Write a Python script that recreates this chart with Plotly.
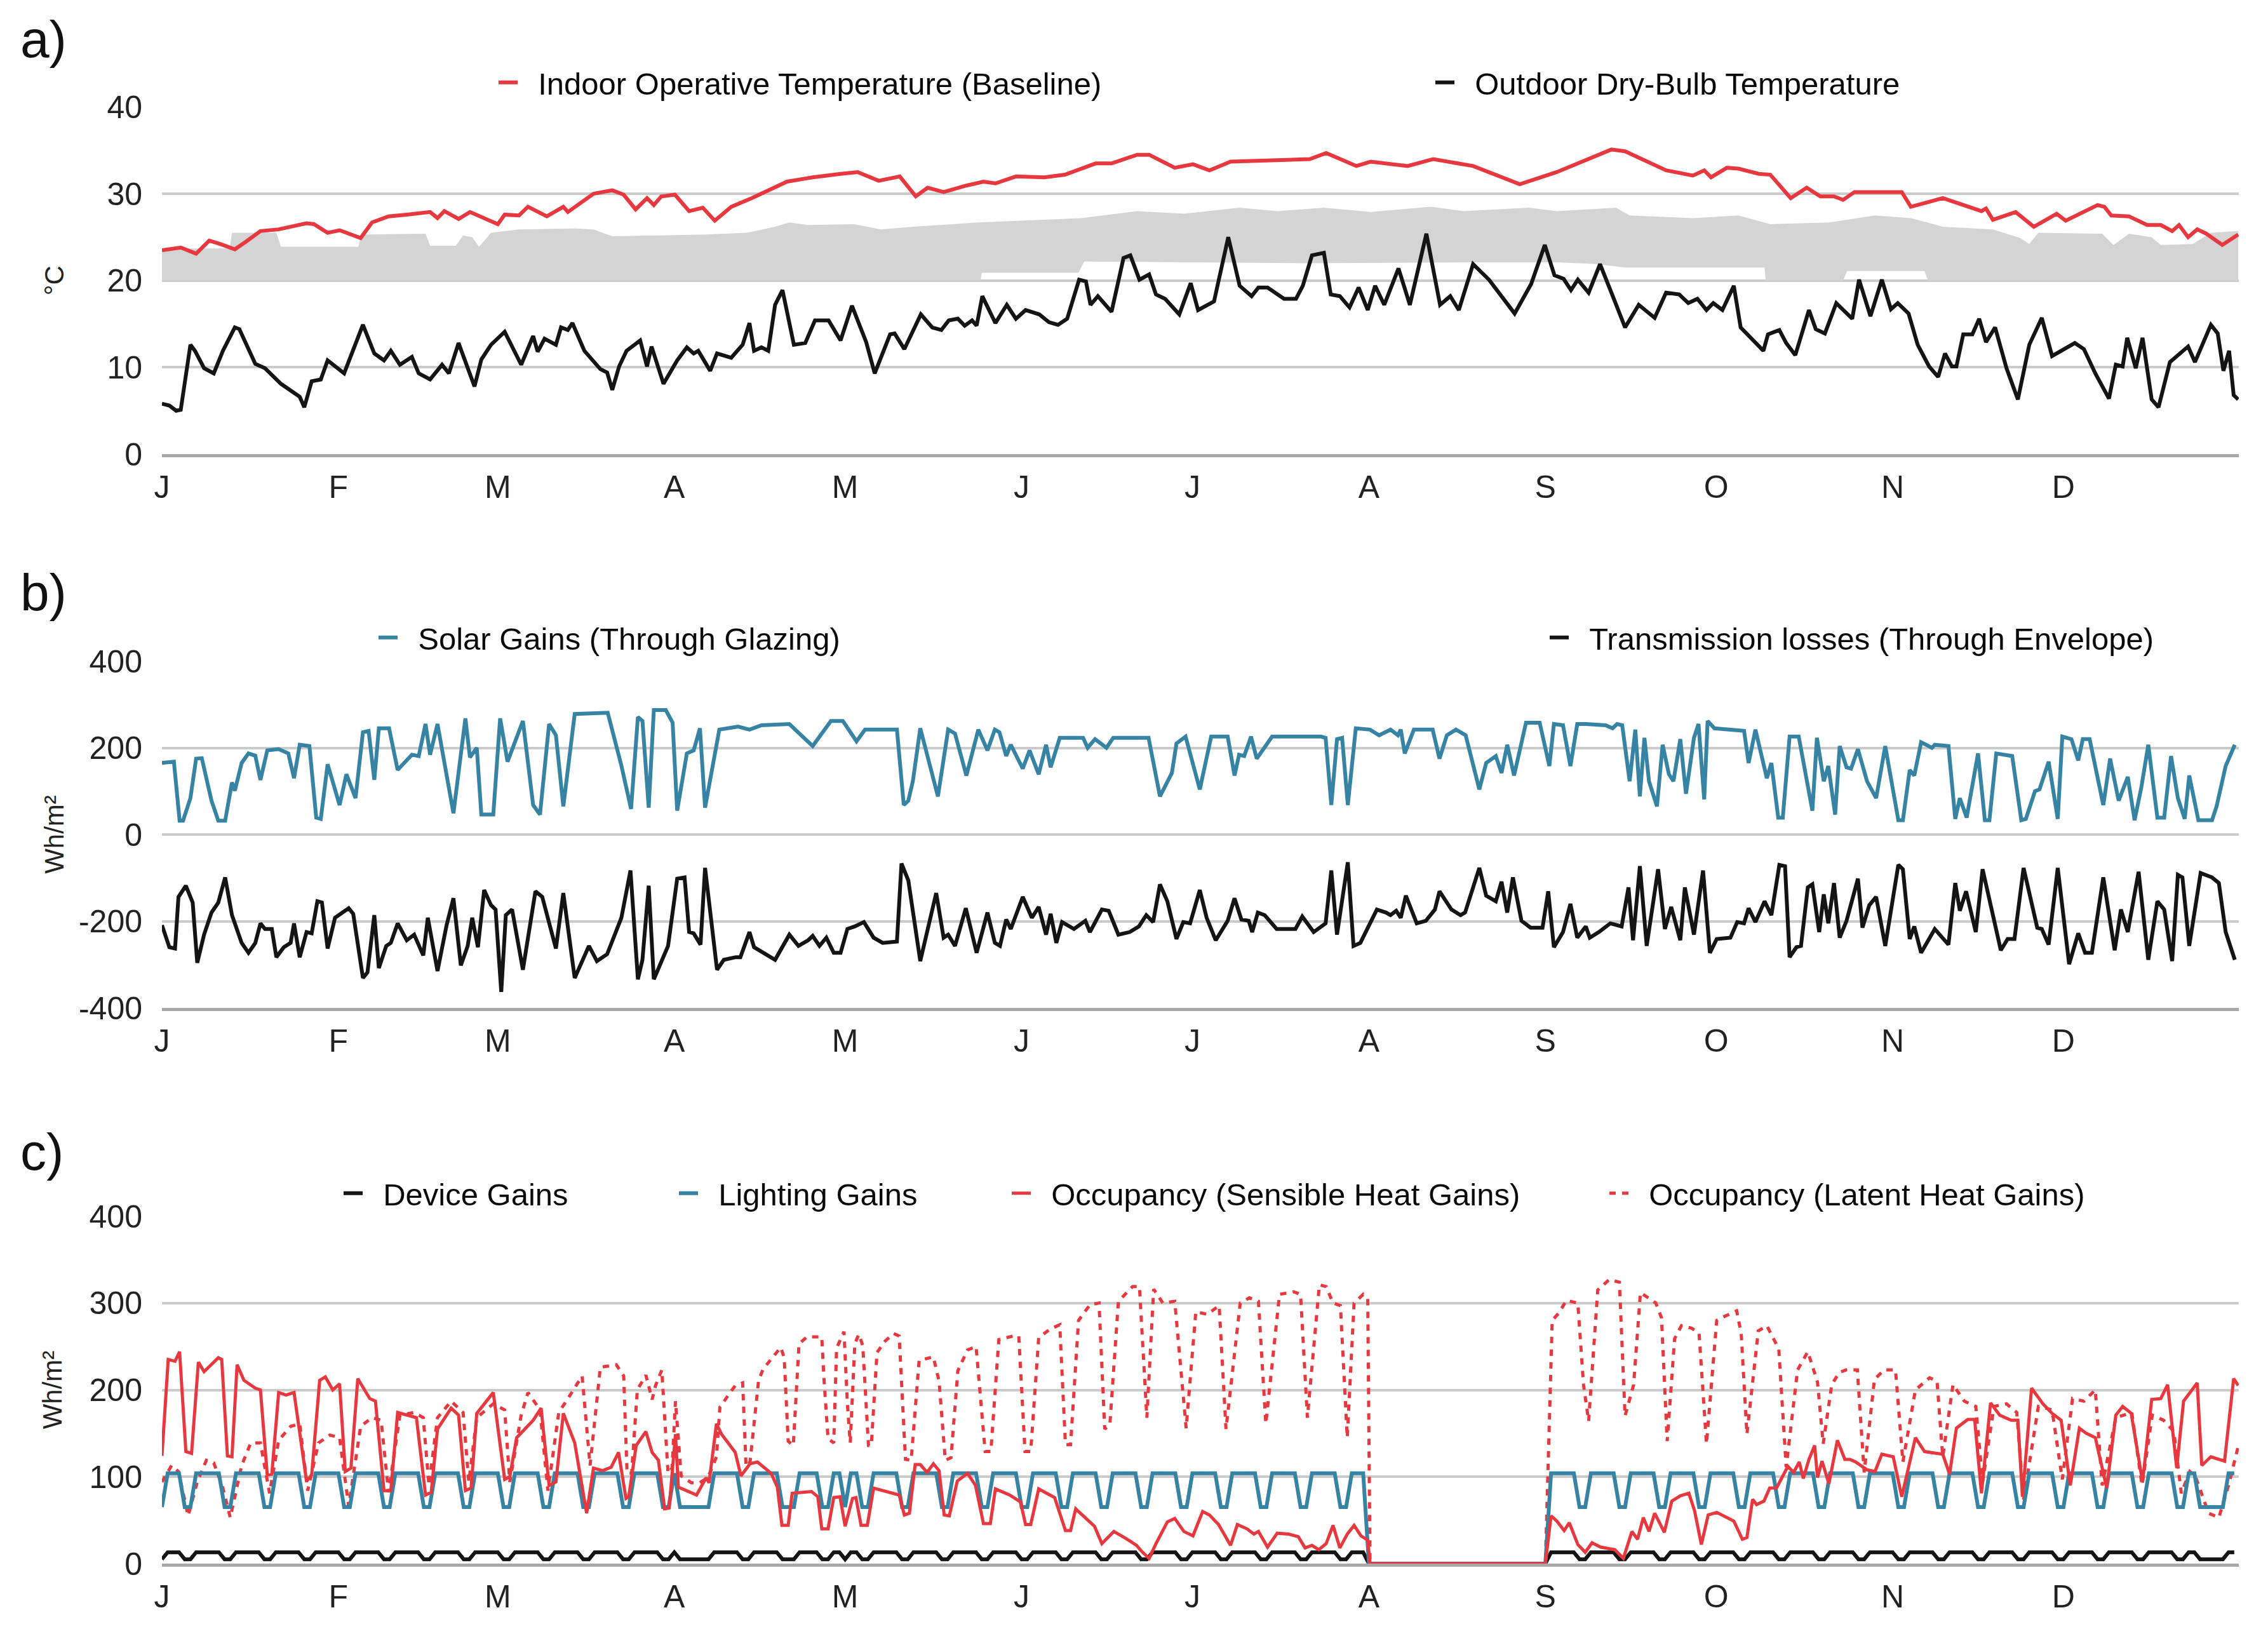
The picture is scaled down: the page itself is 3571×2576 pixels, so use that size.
import plotly.graph_objects as go

# ---------------- DATA (day of year: 0 = 1 January) ----------------
month_ticks = [0, 31, 59, 90, 120, 151, 181, 212, 243, 273, 304, 334]
month_labels = ["J", "F", "M", "A", "M", "J", "J", "A", "S", "O", "N", "D"]

# a) temperatures (°C) as (day, value)
indoor_pts = [(0,23.5),(1.3,23.6),(3.3,23.8),(6.0,23.1),(8.3,24.6),(10.3,24.2),(12.8,23.6),(14.8,24.5),(17.3,25.7),(20.5,25.9),
 (25.4,26.6),(26.7,26.5),(29.1,25.5),(31.2,25.8),(34.9,24.9),(36.9,26.7),(39.8,27.4),(43.0,27.6),(47.1,27.9),(48.4,27.2),
 (49.6,28.0),(52.1,27.1),(54.1,27.9),(59.0,26.5),(60.2,27.6),(62.7,27.5),(64.3,28.5),(67.6,27.4),(70.5,28.5),(71.3,27.9),
 (75.8,30.0),(79.1,30.4),(81.1,29.9),(83.2,28.2),(85.2,29.5),(86.4,28.7),(87.7,29.7),(90.1,29.9),(92.6,28.0),(95.0,28.4),
 (97.1,26.9),(100.0,28.5),(103.6,29.5),(109.8,31.4),(114.3,31.9),(119.2,32.3),(122.2,32.5),(125.9,31.5),(129.6,32.0),(132.4,29.7),
 (134.5,30.7),(137.3,30.2),(141.0,30.9),(144.3,31.4),(146.4,31.2),(150.0,32.0),(155.0,31.9),(158.6,32.2),(164.0,33.5),(166.8,33.5),
 (171.3,34.5),(173.4,34.5),(177.9,33.0),(181.1,33.4),(184.0,32.7),(187.7,33.7),(193.4,33.8),(201.6,34.0),(204.5,34.7),(209.8,33.2),
 (212.3,33.7),(218.8,33.2),(223.3,34.0),(230.3,33.2),(238.5,31.1),(245.0,32.5),(254.6,35.1),(257.0,34.9),(264.2,32.7),(268.9,32.1),
 (270.9,32.7),(272.1,31.9),(274.9,33.0),(276.9,32.9),(280.5,32.3),(282.5,32.2),(286.1,29.5),(288.9,30.7),(291.3,29.7),(293.7,29.7),
 (295.3,29.3),(297.3,30.2),(305.6,30.2),(307.2,28.5),(312.8,29.5),(317.2,28.5),(319.6,28.0),(320.4,28.3),(321.6,27.0),(325.6,27.9),
 (328.8,26.2),(332.8,27.7),(334.4,26.9),(340.0,28.7),(341.2,28.5),(342.4,27.5),(345.5,27.4),(348.7,26.4),(351.1,26.4),(353.1,25.7),
 (354.3,26.4),(355.9,25.0),(357.5,25.9),(359.1,25.4),(361.9,24.1),(364.7,25.3)]

band_top_pts = [(0,23.7),(11.9,23.7),(12.3,25.5),(20.1,25.5),(20.9,23.9),(34.5,23.9),(35.0,25.3),(46.3,25.4),(47.1,24.0),(51.6,24.0),
 (52.9,25.2),(54.5,25.0),(55.7,23.9),(57.8,25.5),(62.7,25.9),(72.5,26.0),(75.8,25.9),(79.1,25.1),(87.3,25.2),(95.4,25.3),
 (102.8,25.5),(107.7,26.2),(110.2,26.7),(113.5,26.4),(121.6,26.5),(126.3,25.9),(132.0,26.2),(143.5,26.7),(161.5,27.2),(171.3,28.0),
 (179.5,27.7),(189.3,28.4),(195.9,28.0),(204.1,28.4),(212.3,27.9),(222.9,28.5),(228.6,28.0),(240.1,28.4),(245.0,28.0),(255.4,28.4),
 (257.8,27.5),(268.9,27.2),(276.9,27.5),(282.5,26.5),(292.9,26.7),(300.9,27.5),(307.2,27.2),(312.8,26.2),(321.6,25.9),(326.4,24.9),
 (328.0,24.2),(329.6,25.5),(340.8,25.4),(342.8,24.1),(345.5,25.4),(349.5,25.0),(351.1,24.1),(356.7,24.2),(359.9,25.5),(364.7,25.7)]

band_low_pts = [(0,20),(143.8,20),(144.0,20.9),(161.0,20.9),(162.0,22.2),(200,22.0),(230,22.1),(245,22.1),(252,21.9),(257,21.5),
 (281.5,21.5),(281.7,20),(295.3,20),(296.0,21.1),(309.6,21.1),(310.2,20),(364.7,20)]

outdoor_pts = [(0,5.8),(1.3,5.6),(2.5,5.0),(3.3,5.1),(5.0,12.6),(5.8,11.9),(7.4,9.9),(9.1,9.3),(10.7,11.9),(12.8,14.6),
 (13.6,14.4),(16.4,10.4),(18.1,9.9),(20.9,8.1),(24.2,6.6),(25.0,5.4),(26.3,8.4),(27.9,8.6),(29.1,10.8),(32.0,9.3),
 (35.3,14.9),(37.3,11.6),(39.0,10.8),(40.2,11.9),(41.8,10.3),(43.9,11.2),(45.1,9.3),(47.1,8.6),(49.2,10.3),(50.4,9.3),
 (52.1,12.8),(54.9,7.8),(56.1,10.9),(57.8,12.6),(60.2,14.1),(63.1,10.3),(65.2,13.6),(66.0,11.8),(67.2,13.3),(69.2,12.6),
 (70.1,14.6),(71.3,14.3),(72.1,15.1),(74.2,11.9),(77.0,9.8),(78.2,9.4),(79.1,7.4),(80.3,10.1),(81.6,11.9),(84.0,13.1),
 (85.2,10.1),(86.0,12.4),(88.1,8.1),(90.5,10.8),(92.2,12.3),(93.4,11.6),(94.2,11.9),(96.3,9.6),(97.5,11.6),(100.0,11.1),
 (102.0,12.6),(103.2,15.1),(104.0,11.9),(105.3,12.3),(106.5,11.9),(107.7,17.2),(109.0,18.9),(111.0,12.6),(113.0,12.8),(114.7,15.4),
 (117.1,15.4),(119.2,13.1),(121.2,17.1),(123.7,12.9),(125.2,9.3),(127.9,13.8),(128.7,13.9),(130.4,12.1),(133.3,16.1),(135.3,14.6),
 (136.9,14.3),(138.2,15.4),(139.8,15.6),(141.0,14.8),(142.3,15.4),(143.1,14.8),(144.1,18.2),(146.4,15.1),(148.4,17.2),(150.0,15.6),
 (151.7,16.6),(154.1,16.1),(155.8,15.2),(157.4,14.9),(159.0,15.6),(161.1,20.1),(162.3,19.9),(163.1,17.2),(164.4,18.2),(166.8,16.4),
 (168.9,22.6),(170.1,22.9),(171.7,20.1),(173.4,20.7),(174.6,18.4),(176.2,17.9),(178.7,16.1),(180.7,19.7),(182.0,16.6),(184.8,17.6),
 (187.3,25.0),(189.3,19.4),(191.4,18.2),(192.6,19.2),(194.2,19.2),(197.1,17.9),(199.2,17.9),(200.4,19.4),(202.0,22.9),(204.1,23.2),
 (205.3,18.4),(206.9,18.2),(208.6,16.9),(210.2,19.2),(211.8,16.6),(213.1,19.4),(214.7,17.2),(217.2,21.4),(219.2,17.2),(222.1,25.4),
 (224.5,17.2),(226.3,18.2),(227.8,16.6),(230.3,21.9),(233.1,20.1),(235.6,17.9),(237.6,16.2),(240.5,19.6),(242.9,24.1),(244.6,20.6),
 (246.2,20.2),(247.5,18.9),(248.7,20.1),(250.6,18.6),(252.6,21.9),(254.6,18.6),(257.0,14.6),(259.4,17.2),(262.2,15.7),(264.2,18.6),
 (266.5,18.4),(268.1,17.4),(269.7,17.9),(271.3,16.6),(272.5,17.4),(274.1,16.6),(276.1,19.4),(277.3,14.6),(281.3,11.9),(282.1,13.8),
 (284.1,14.3),(285.3,12.8),(286.9,11.4),(289.3,16.6),(290.5,14.4),(292.1,13.9),(294.1,17.4),(296.9,15.6),(298.1,20.1),(300.1,15.9),
 (302.1,20.1),(303.7,16.7),(304.9,17.4),(306.8,16.2),(308.4,12.6),(310.4,10.1),(312.0,8.9),(313.2,11.6),(314.4,10.1),(315.2,10.1),
 (316.4,13.8),(318.0,13.8),(319.2,15.6),(320.4,12.9),(322.0,14.6),(324.0,9.9),(326.0,6.3),(328.0,12.6),(330.2,15.7),(332.0,11.3),
 (336.0,12.8),(337.6,12.1),(339.6,9.3),(342.0,6.4),(343.2,10.3),(344.4,10.1),(345.2,13.4),(346.7,9.9),(347.9,13.4),(349.5,6.3),
 (350.7,5.4),(352.7,10.6),(353.9,11.3),(355.9,12.4),(357.1,10.6),(359.9,14.9),(361.1,13.9),(362.1,9.6),(363.1,11.9),(363.9,6.8),
 (364.7,6.3)]

# b) energy balance (Wh/m2)
solar_pts = [(0,165),(2.1,168),(3.1,32),(3.7,32),(5.0,84),(6.0,175),(7.0,176),(8.7,78),(9.9,32),(11.1,32),
 (12.3,120),(12.8,101),(14.0,165),(15.2,187),(16.4,182),(17.3,126),(18.5,194),(20.5,197),(22.2,187),(23.2,130),
 (24.2,207),(25.9,204),(27.1,39),(27.9,36),(29.1,162),(31.2,68),(32.4,139),(34.0,84),(35.3,236),(36.3,239),
 (37.3,126),(38.1,245),(39.9,245),(41.4,149),(43.9,184),(45.1,181),(46.3,255),(47.1,184),(48.4,255),(51.2,49),
 (53.3,268),(54.1,178),(55.3,200),(56.1,46),(58.2,46),(59.4,268),(60.7,168),(63.4,262),(65.2,68),(66.4,46),
 (68.0,255),(69.2,229),(70.5,65),(72.5,278),(78.3,281),(80.7,159),(82.4,59),(83.6,271),(84.4,262),(85.5,62),
 (86.4,287),(88.5,287),(89.7,258),(90.5,55),(92.2,187),(93.4,194),(94.5,245),(95.4,62),(97.9,242),(101.2,249),
 (103.2,242),(105.3,252),(110.2,255),(114.3,204),(117.5,262),(119.6,262),(122.0,215),(123.5,242),(129.1,242),(130.3,68),
 (131.1,78),(131.9,123),(133.2,245),(136.3,88),(138.1,242),(139.3,233),(141.3,136),(143.4,242),(145.0,194),(146.3,242),
 (147.1,236),(148.3,181),(149.1,207),(151.2,152),(152.4,194),(154.0,139),(155.3,207),(156.1,155),(157.7,223),(161.8,223),
 (162.6,200),(163.9,220),(165.9,200),(167.1,223),(173.3,223),(175.3,88),(177.4,142),(178.2,210),(179.8,226),(182.3,104),
 (184.3,226),(187.2,226),(188.4,136),(189.2,184),(190.1,181),(191.3,226),(192.3,175),(195.0,226),(203.6,226),(204.4,223),
 (205.4,68),(206.4,220),(207.3,223),(208.3,68),(209.7,245),(212.2,242),(213.8,229),(215.8,242),(217.1,229),(217.6,242),
 (218.3,187),(219.9,242),(223.2,242),(224.4,175),(225.7,229),(227.3,242),(229.0,229),(231.4,104),(232.6,165),(234.3,181),
 (235.3,142),(236.3,207),(237.5,136),(239.6,258),(242.0,258),(243.7,158),(244.5,255),(246.1,252),(247.4,158),(248.6,255),
 (250.1,255),(253.6,252),(254.8,245),(255.6,255),(256.5,252),(257.8,123),(258.8,242),(259.6,88),(260.4,223),(261.2,123),
 (262.6,65),(263.6,207),(264.7,139),(265.5,123),(266.7,220),(267.7,94),(269.1,223),(269.9,255),(270.9,81),(271.5,262),
 (272.7,245),(277.9,239),(278.7,165),(279.9,242),(281.9,130),(282.7,165),(283.9,39),(284.7,39),(285.9,226),(287.5,226),
 (289.9,55),(290.7,223),(291.9,123),(292.7,158),(293.9,46),(294.7,204),(295.9,155),(296.7,152),(297.9,197),(299.5,123),
 (301.1,84),(302.7,204),(305.0,33),(305.8,33),(307.0,149),(307.8,136),(309.0,213),(309.8,207),(310.9,200),(311.4,207),
 (313.8,204),(315.0,36),(315.8,84),(317.0,39),(319.0,187),(320.2,33),(321.0,33),(322.2,187),(325.0,181),(326.6,33),
 (327.4,36),(329.0,100),(329.8,104),(331.4,168),(332.0,123),(333.0,36),(333.8,226),(335.4,220),(336.6,171),(337.4,220),
 (338.6,220),(341.0,68),(342.2,175),(343.7,78),(345.3,133),(346.5,33),(347.7,110),(348.9,207),(350.5,39),(351.7,39),
 (352.9,181),(354.1,84),(355.3,36),(356.1,136),(357.7,33),(360.1,33),(360.9,65),(362.5,158),(364.1,207)]

transmission_pts = [(0,-209),(1.3,-260),(2.3,-263),(2.9,-144),(4.2,-118),(5.4,-157),(6.2,-296),(7.4,-231),(8.7,-180),(9.9,-157),
 (11.1,-99),(12.3,-186),(14.0,-250),(15.2,-273),(16.4,-250),(17.3,-205),(18.1,-218),(19.3,-218),(20.1,-283),(21.4,-260),
 (22.6,-250),(23.2,-205),(24.2,-283),(25.4,-225),(26.3,-228),(27.3,-154),(28.1,-157),(29.1,-263),(30.4,-192),(32.8,-170),
 (33.6,-183),(35.3,-331),(36.1,-318),(37.3,-186),(38.1,-308),(39.4,-257),(40.2,-250),(41.4,-205),(43.0,-244),(44.3,-231),
 (45.9,-279),(46.7,-192),(48.4,-315),(50.0,-209),(51.2,-147),(52.5,-302),(53.7,-257),(54.5,-192),(55.5,-260),(56.6,-128),
 (57.8,-163),(58.6,-173),(59.6,-363),(60.4,-186),(61.5,-173),(63.4,-312),(65.6,-131),(66.8,-144),(69.2,-263),(70.5,-135),
 (72.5,-331),(75.0,-257),(76.4,-292),(78.2,-276),(80.7,-192),(82.3,-83),(83.6,-334),(84.4,-289),(85.5,-118),(86.4,-334),
 (88.9,-257),(90.5,-102),(91.8,-99),(92.6,-225),(93.4,-228),(94.6,-254),(95.4,-77),(97.5,-312),(98.7,-289),(100.8,-283),
 (101.6,-283),(103.2,-225),(104.0,-260),(105.7,-273),(107.7,-289),(110.2,-231),(111.8,-257),(113.5,-244),(114.3,-234),(115.5,-257),
 (116.7,-238),(118.0,-273),(119.2,-273),(120.4,-218),(121.7,-212),(123.3,-202),(125.0,-238),(126.6,-250),(129.1,-247),(129.9,-67),
 (131.1,-106),(133.2,-292),(136.0,-135),(137.3,-238),(138.1,-231),(139.3,-257),(141.2,-170),(143.1,-273),(145.0,-180),(146.3,-250),
 (147.2,-257),(148.3,-196),(149.1,-218),(151.2,-144),(152.8,-192),(154.0,-167),(155.3,-231),(156.1,-183),(157.1,-250),(158.1,-202),
 (160.2,-218),(162.2,-199),(163.0,-225),(165.1,-173),(166.3,-176),(168.0,-231),(170.0,-225),(171.6,-212),(172.9,-186),(174.1,-202),
 (175.3,-115),(176.6,-154),(178.2,-241),(179.4,-202),(180.6,-205),(182.3,-128),(183.5,-192),(185.1,-244),(187.2,-199),(188.4,-147),
 (189.6,-196),(190.9,-199),(191.5,-225),(192.5,-180),(193.7,-186),(195.8,-218),(199.1,-218),(200.3,-189),(202.3,-225),(204.4,-205),
 (205.4,-83),(206.4,-231),(208.3,-64),(209.3,-257),(210.5,-250),(213.4,-173),(215.0,-180),(215.8,-186),(216.8,-176),(217.6,-192),
 (218.5,-141),(220.4,-205),(222.0,-199),(223.6,-173),(224.4,-131),(226.5,-173),(228.1,-186),(228.9,-180),(231.4,-77),(232.6,-141),
 (234.3,-154),(235.3,-109),(236.3,-180),(237.3,-99),(238.8,-199),(240.4,-215),(242.5,-215),(243.5,-131),(244.5,-260),(246.1,-225),
 (247.4,-160),(248.6,-238),(250.1,-212),(250.8,-238),(252.4,-225),(254.4,-205),(256.4,-212),(257.6,-122),(258.4,-244),(259.6,-73),
 (260.8,-257),(262.8,-80),(264.0,-218),(265.1,-167),(266.7,-244),(267.5,-122),(269.1,-231),(270.7,-83),(271.9,-273),(273.1,-241),
 (275.5,-238),(276.7,-202),(277.9,-205),(278.7,-170),(279.9,-202),(281.5,-154),(282.7,-186),(284.1,-70),(285.1,-73),(285.9,-283),
 (287.1,-260),(287.9,-257),(289.1,-122),(289.9,-115),(291.1,-225),(291.9,-138),(292.7,-205),(293.7,-112),(294.7,-238),(295.9,-199),
 (297.9,-102),(298.7,-215),(299.9,-163),(301.1,-144),(302.7,-257),(305.0,-70),(305.8,-80),(307.0,-241),(307.8,-212),(309.0,-273),
 (311.4,-218),(313.8,-254),(315.0,-112),(315.8,-176),(316.9,-131),(318.6,-225),(319.8,-80),(323.0,-267),(324.2,-241),(325.4,-241),
 (327.0,-77),(329.4,-215),(330.2,-218),(331.4,-254),(333.0,-77),(335.0,-299),(336.6,-228),(337.8,-273),(339.0,-273),(341.0,-99),
 (343.0,-267),(344.1,-173),(345.3,-225),(347.2,-86),(348.9,-289),(350.5,-154),(351.7,-173),(353.1,-292),(354.1,-93),(354.9,-99),
 (356.1,-257),(358.1,-89),(360.1,-99),(361.3,-112),(362.5,-225),(364.1,-289)]

# c) internal gains (Wh/m2), one value per day
lighting_gains = [
 65,104,104,104,65,65,104,
 104,104,104,104,65,65,104, 104,104,104,104,65,65,104, 104,104,104,104,65,65,104, 104,104,104,104,65,65,104,
 104,104,104,104,65,65,104, 104,104,104,104,65,65,104, 104,104,104,104,65,65,104, 104,104,104,104,65,65,104,
 104,104,104,104,65,65,104, 104,104,104,104,65,65,104, 104,104,104,104,65,65,104, 104,104,104,104,65,65,104,
 65,65,65,65,65,65,104,
 104,104,104,104,65,65,104,
 104,104,104,104,65,65,65,
 104,104,104,104,65,65,104,
 104,65,104,104,65,65,104,
 104,104,104,104,65,65,104, 104,104,104,104,65,65,104, 104,104,104,104,65,65,104, 104,104,104,104,65,65,104,
 104,104,104,104,65,65,104, 104,104,104,104,65,65,104, 104,104,104,104,65,65,104, 104,104,104,104,65,65,104,
 104,104,104,104,65,65,104, 104,104,104,104,65,65,104, 104,104,104,104,65,65,104, 104,104,104,104,65,65,104,
 104,104,0,0,0,0,0,
 0,0,0,0,0,0,0, 0,0,0,0,0,0,0, 0,0,0,0,0,0,0,
 0,0,0,0,0,0,104,
 104,104,104,104,65,65,104, 104,104,104,104,65,65,104, 104,104,104,104,65,65,104, 104,104,104,104,65,65,104,
 104,104,104,104,65,65,104, 104,104,104,104,65,65,104, 104,104,104,104,65,65,104, 104,104,104,104,65,65,104,
 104,104,104,104,65,65,104, 104,104,104,104,65,65,104, 104,104,104,104,65,65,104, 104,104,104,104,65,65,104,
 104,104,104,104,65,65,104, 104,104,104,104,65,65,104, 104,104,104,104,65,65,104, 104,104,104,104,65,65,104,
 104,65,65,65,65,65,104,
 104]

device_gains = [
 5,13,13,13,5,5,13,
 13,13,13,13,5,5,13, 13,13,13,13,5,5,13, 13,13,13,13,5,5,13, 13,13,13,13,5,5,13,
 13,13,13,13,5,5,13, 13,13,13,13,5,5,13, 13,13,13,13,5,5,13, 13,13,13,13,5,5,13,
 13,13,13,13,5,5,13, 13,13,13,13,5,5,13, 13,13,13,13,5,5,13, 13,13,13,13,5,5,13,
 5,5,5,5,5,5,13,
 13,13,13,13,5,5,13,
 13,13,13,13,5,5,5,
 13,13,13,13,5,5,13,
 13,5,13,13,5,5,13,
 13,13,13,13,5,5,13, 13,13,13,13,5,5,13, 13,13,13,13,5,5,13, 13,13,13,13,5,5,13,
 13,13,13,13,5,5,13, 13,13,13,13,5,5,13, 13,13,13,13,5,5,13, 13,13,13,13,5,5,13,
 13,13,13,13,5,5,13, 13,13,13,13,5,5,13, 13,13,13,13,5,5,13, 13,13,13,13,5,5,13,
 13,13,0,0,0,0,0,
 0,0,0,0,0,0,0, 0,0,0,0,0,0,0, 0,0,0,0,0,0,0,
 0,0,0,0,0,0,13,
 13,13,13,13,5,5,13, 13,13,13,13,5,5,13, 13,13,13,13,5,5,13, 13,13,13,13,5,5,13,
 13,13,13,13,5,5,13, 13,13,13,13,5,5,13, 13,13,13,13,5,5,13, 13,13,13,13,5,5,13,
 13,13,13,13,5,5,13, 13,13,13,13,5,5,13, 13,13,13,13,5,5,13, 13,13,13,13,5,5,13,
 13,13,13,13,5,5,13, 13,13,13,13,5,5,13, 13,13,13,13,5,5,13, 13,13,13,13,5,5,13,
 13,5,5,5,5,5,13,
 13]

sensible_pts = [(0,124),(1.1,235),(2.3,233),(3.1,244),(4.2,129),(5.2,127),(6.4,232),(7.4,221),(9.9,237),(10.5,235),
 (11.5,124),(12.3,123),(13.2,229),(14.4,211),(16.4,202),(17.3,200),(18.5,102),(19.3,103),(20.5,197),(21.8,194),
 (23.2,197),(25.4,95),(26.3,102),(27.7,211),(28.7,215),(30.0,200),(31.2,207),(32.2,106),(33.2,110),(34.4,213),
 (36.5,190),(37.5,187),(39.0,84),(40.2,84),(41.4,174),(43.0,171),(44.7,168),(46.3,79),(47.3,82),(48.4,155),
 (50.8,179),(52.1,171),(53.3,84),(54.3,87),(55.3,173),(58.2,197),(60.2,97),(61.1,100),(62.3,145),(65.2,165),
 (66.6,179),(68.0,90),(69.2,94),(70.5,173),(72.5,139),(74.6,58),(75.8,110),(77.4,107),(78.9,111),(80.2,128),
 (81.5,75),(82.0,77),(83.3,136),(85.0,152),(86.1,128),(87.2,119),(88.3,63),(89.1,64),(90.2,149),(90.7,88),
 (93.9,79),(95.6,99),(96.1,93),(97.4,161),(98.3,149),(100.7,128),(101.7,101),(103.3,115),(104.6,117),(107.0,104),
 (108.1,88),(108.9,44),(110.0,44),(110.7,81),(114.1,83),(115.2,77),(115.9,40),(117.0,40),(118.0,76),(119.1,77),
 (120.0,43),(121.3,75),(121.9,76),(122.8,44),(123.9,44),(125.0,87),(127.4,83),(129.5,79),(130.4,56),(131.3,58),
 (132.3,114),(133.2,114),(134.4,105),(135.5,115),(136.5,107),(137.4,56),(138.3,55),(139.7,95),(141.5,104),(142.9,90),
 (144.3,46),(145.5,46),(146.4,86),(148.9,79),(150.8,71),(151.7,45),(152.6,45),(154.0,86),(155.4,81),(156.8,76),
 (158.7,38),(159.6,38),(160.5,63),(161.9,55),(163.8,43),(165.1,23),(167.2,37),(169.3,29),(171.2,21),(172.1,14),
 (173.4,6),(174.6,23),(176.6,48),(177.9,52),(179.5,37),(181.1,32),(182.8,60),(184.0,56),(185.6,45),(187.7,21),
 (188.9,45),(190.6,40),(191.8,34),(192.6,37),(194.2,19),(195.9,35),(197.9,34),(199.6,31),(200.8,18),(202.0,21),
 (203.2,16),(204.5,23),(205.7,44),(206.9,18),(208.2,34),(209.4,44),(210.6,32),(211.8,27),(212.2,0),(243.0,0),
 (244.0,55),(245.0,49),(246.3,38),(247.2,47),(248.7,22),(250.0,13),(251.2,24),(252.7,19),(255.2,16),(256.7,6),
 (258.2,37),(259.2,28),(260.2,53),(261.2,37),(262.2,58),(263.9,36),(265.2,72),(266.7,78),(268.2,81),(269.2,61),
 (270.4,22),(271.6,56),(273.1,59),(276.1,49),(277.6,28),(278.4,30),(279.4,74),(280.1,68),(281.4,72),(282.4,87),
 (283.6,87),(285.6,112),(286.6,105),(287.6,117),(288.3,98),(289.3,120),(290.3,136),(290.8,99),(291.6,118),(292.8,92),
 (294.3,142),(295.6,120),(296.5,120),(297.5,117),(298.5,112),(299.5,108),(300.9,106),(302.1,126),(304.1,123),(305.6,77),
 (308.0,145),(309.6,129),(311.6,127),(312.8,126),(314.0,103),(315.2,156),(317.2,166),(318.4,166),(319.6,81),(321.2,185),
 (322.8,171),(324.8,165),(326.0,165),(326.8,77),(328.4,202),(330.4,184),(332.0,173),(333.6,165),(335.2,90),(336.8,156),
 (338.0,150),(339.6,145),(341.6,87),(343.2,171),(344.4,181),(345.9,173),(347.9,94),(349.5,189),(351.1,190),(352.3,206),
 (353.9,110),(355.1,187),(357.5,208),(358.3,113),(359.9,123),(362.3,118),(363.9,213),(364.7,205)]

latent_pts = [(0,94),(1.7,113),(2.9,106),(4.6,55),(6.2,94),(7.8,119),(9.1,116),(10.7,87),(12.0,53),(14.0,113),
 (15.6,139),(17.3,139),(18.9,81),(20.5,142),(22.6,158),(24.2,161),(25.6,84),(27.5,139),(29.5,148),(31.2,145),
 (32.8,66),(34.9,158),(36.9,168),(38.5,165),(39.8,82),(41.8,171),(44.3,174),(45.9,168),(46.9,90),(48.4,168),
 (50.8,187),(52.9,174),(53.9,94),(55.3,168),(58.2,184),(60.2,177),(61.1,94),(63.1,171),(64.3,197),(66.4,177),
 (67.8,84),(69.7,174),(71.7,194),(73.8,216),(75.2,113),(77.0,226),(79.8,229),(81.1,216),(81.7,104),(82.5,104),
 (83.5,200),(85.0,217),(86.1,189),(86.7,205),(87.8,223),(88.9,104),(89.6,110),(90.2,187),(91.2,101),(93.0,93),
 (94.4,93),(95.9,99),(97.4,123),(98.0,180),(99.6,195),(100.7,205),(102.0,208),(102.6,112),(103.3,117),(104.8,211),
 (105.6,224),(107.0,235),(108.7,249),(109.3,237),(110.0,141),(110.9,136),(111.9,253),(113.3,261),(115.9,261),(116.3,211),
 (117.0,144),(118.0,139),(118.5,248),(119.8,267),(120.4,184),(120.9,139),(121.7,253),(122.4,264),(123.1,251),(124.1,136),
 (124.6,136),(125.6,243),(127.0,256),(128.5,265),(129.5,262),(130.6,120),(131.6,119),(133.0,234),(135.5,238),(136.5,210),
 (137.6,119),(138.6,122),(139.8,222),(141.5,246),(143.0,250),(144.6,129),(145.6,129),(147.0,258),(149.5,262),(150.5,262),
 (151.6,129),(152.6,129),(154.0,260),(156.0,270),(157.7,275),(158.7,137),(159.6,137),(161.0,280),(163.0,298),(164.6,300),
 (165.6,155),(166.5,160),(168.0,302),(170.5,319),(171.7,319),(173.0,168),(174.2,316),(175.8,300),(177.9,302),(179.9,156),
 (181.6,290),(183.6,287),(185.7,297),(186.9,155),(189.4,300),(191.0,306),(192.6,302),(193.9,161),(196.3,310),(198.8,313),
 (200.0,310),(201.2,168),(203.3,321),(204.5,319),(205.7,300),(207.0,297),(208.2,145),(209.4,300),(211.0,310),(211.8,305),
 (212.2,0),(243.0,0),(244.2,280),(245.3,288),(246.7,303),(248.7,300),(249.7,206),(250.6,164),(252.2,315),(254.2,327),
 (256.0,324),(257.0,170),(258.5,206),(259.7,312),(261.0,306),(262.4,300),(263.4,283),(264.4,141),(265.7,259),(266.9,274),
 (268.7,271),(270.0,265),(271.3,138),(273.1,280),(274.6,285),(276.6,291),(277.4,265),(278.4,149),(280.4,268),(281.9,274),
 (284.0,247),(285.3,111),(287.3,223),(289.1,244),(290.8,209),(291.8,138),(293.3,206),(294.6,220),(295.8,223),(297.8,223),
 (299.0,105),(300.8,212),(302.5,223),(304.5,223),(305.8,117),(308.0,200),(310.5,214),(311.8,210),(312.8,123),(314.6,206),
 (316.6,187),(318.6,181),(319.8,94),(321.8,181),(324.0,184),(325.8,174),(327.0,74),(329.6,181),(332.0,177),(333.8,97),
 (335.6,190),(337.6,187),(339.6,200),(340.8,90),(343.2,168),(346.0,174),(347.8,90),(349.6,171),(351.6,165),(353.4,152),
 (354.7,81),(356.2,106),(357.2,100),(359.5,58),(361.3,53),(363.0,90),(364.7,135)]

# ---------------- STYLE ----------------
W, H = 3571, 2576
PAGE_OFFSET = 8  # default body margin of the html page, in px
FONT = "Liberation Sans, Arial, Helvetica, sans-serif"
RED = "#e8383f"
TEAL = "#3783a4"
BLACK = "#141414"
GRID = "#cbcbcb"
GAP = "\u00a0\u00a0"  # space between legend swatch and label
days = list(range(len(lighting_gains)))


def xs(pts):
    return [p[0] for p in pts]


def ys(pts):
    return [p[1] for p in pts]


def px_x(v):
    return (v - PAGE_OFFSET) / W


def px_y(v):
    return 1 - (v - PAGE_OFFSET) / H


fig = go.Figure()

# ---- panel a ----
fig.add_trace(go.Scatter(x=xs(band_low_pts), y=ys(band_low_pts), mode="lines", line=dict(width=0, color="#d4d4d4"),
                         showlegend=False, hoverinfo="skip", xaxis="x", yaxis="y"))
fig.add_trace(go.Scatter(x=xs(band_top_pts), y=ys(band_top_pts), mode="lines", line=dict(width=0, color="#d4d4d4"),
                         fill="tonexty", fillcolor="#d4d4d4", showlegend=False, hoverinfo="skip", xaxis="x", yaxis="y"))
fig.add_trace(go.Scatter(x=xs(outdoor_pts), y=ys(outdoor_pts), mode="lines", line=dict(width=6, color=BLACK),
                         name=GAP + "Outdoor Dry-Bulb Temperature", legend="legend2", xaxis="x", yaxis="y"))
fig.add_trace(go.Scatter(x=xs(indoor_pts), y=ys(indoor_pts), mode="lines", line=dict(width=6, color=RED),
                         name=GAP + "Indoor Operative Temperature (Baseline)", legend="legend", xaxis="x", yaxis="y"))

# ---- panel b ----
fig.add_trace(go.Scatter(x=xs(solar_pts), y=ys(solar_pts), mode="lines", line=dict(width=6, color=TEAL),
                         name=GAP + "Solar Gains (Through Glazing)", legend="legend3", xaxis="x2", yaxis="y2"))
fig.add_trace(go.Scatter(x=xs(transmission_pts), y=ys(transmission_pts), mode="lines", line=dict(width=6, color=BLACK),
                         name=GAP + "Transmission losses (Through Envelope)", legend="legend4", xaxis="x2", yaxis="y2"))

# ---- panel c ----
fig.add_trace(go.Scatter(x=days, y=device_gains, mode="lines", line=dict(width=6, color=BLACK),
                         name=GAP + "Device Gains", legend="legend5", xaxis="x3", yaxis="y3"))
fig.add_trace(go.Scatter(x=xs(latent_pts), y=ys(latent_pts), mode="lines",
                         line=dict(width=5, color=RED, dash="10px,10px"),
                         name=GAP + "Occupancy (Latent Heat Gains)", legend="legend8", xaxis="x3", yaxis="y3"))
fig.add_trace(go.Scatter(x=days, y=lighting_gains, mode="lines", line=dict(width=6, color=TEAL),
                         name=GAP + "Lighting Gains", legend="legend6", xaxis="x3", yaxis="y3"))
fig.add_trace(go.Scatter(x=xs(sensible_pts), y=ys(sensible_pts), mode="lines", line=dict(width=5, color=RED),
                         name=GAP + "Occupancy (Sensible Heat Gains)", legend="legend7", xaxis="x3", yaxis="y3"))

x_dom = [px_x(255), px_x(3525)]
dom_a = [px_y(715), px_y(168.5)]
dom_b = [px_y(1587), px_y(1041)]
dom_c = [px_y(2462), px_y(1915)]

tickfont = dict(family=FONT, size=50, color="#222222")


def xaxis_cfg(anchor):
    return dict(domain=x_dom, anchor=anchor, range=[0, 364.8], tickmode="array", tickvals=month_ticks,
                ticktext=month_labels, showgrid=False, zeroline=False, showline=True, linecolor="#a8a8a8",
                linewidth=5, ticks="", tickfont=tickfont, ticklabelstandoff=4, automargin=False, fixedrange=True)


def yaxis_cfg(anchor, dom, rng, vals, texts, title, standoff):
    return dict(domain=dom, anchor=anchor, range=rng, tickmode="array", tickvals=vals, ticktext=texts,
                showgrid=True, gridcolor=GRID, gridwidth=4, zeroline=False, showline=False, ticks="",
                tickfont=tickfont, ticklabelstandoff=30, automargin=False, fixedrange=True,
                title=dict(text=title, font=dict(family=FONT, size=42, color="#222222"), standoff=standoff))


legend_common = dict(orientation="h", yanchor="middle", xanchor="left", bgcolor="rgba(0,0,0,0)",
                     font=dict(family=FONT, size=49, color="#0a0a0a"), itemwidth=30, borderwidth=0)

fig.update_layout(
    width=W, height=H, autosize=False,
    margin=dict(l=0, r=0, t=0, b=0, autoexpand=False),
    paper_bgcolor="white", plot_bgcolor="white",
    font=dict(family=FONT, color="#222222"),
    xaxis=xaxis_cfg("y"), xaxis2=xaxis_cfg("y2"), xaxis3=xaxis_cfg("y3"),
    yaxis=yaxis_cfg("x", dom_a, [0, 40], [0, 10, 20, 30, 40], ["0", "10", "20", "30", "40"], "°C", 54),
    yaxis2=yaxis_cfg("x2", dom_b, [-400, 400], [-400, -200, 0, 200, 400], ["-400", "-200", "0", "200", "400"], "Wh/m²", 10),
    yaxis3=yaxis_cfg("x3", dom_c, [0, 400], [0, 100, 200, 300, 400], ["0", "100", "200", "300", "400"], "Wh/m²", 29),
    legend=dict(legend_common, x=px_x(780), y=px_y(130)),
    legend2=dict(legend_common, x=px_x(2255), y=px_y(130)),
    legend3=dict(legend_common, x=px_x(591), y=px_y(1004)),
    legend4=dict(legend_common, x=px_x(2435), y=px_y(1004)),
    legend5=dict(legend_common, x=px_x(536), y=px_y(1879)),
    legend6=dict(legend_common, x=px_x(1064), y=px_y(1879)),
    legend7=dict(legend_common, x=px_x(1588), y=px_y(1879)),
    legend8=dict(legend_common, x=px_x(2529), y=px_y(1879)),
    annotations=[
        dict(text="a)", x=px_x(30), y=px_y(62), xref="paper", yref="paper", xanchor="left", yanchor="middle",
             showarrow=False, font=dict(family=FONT, size=82, color="#111111")),
        dict(text="b)", x=px_x(30), y=px_y(932), xref="paper", yref="paper", xanchor="left", yanchor="middle",
             showarrow=False, font=dict(family=FONT, size=82, color="#111111")),
        dict(text="c)", x=px_x(30), y=px_y(1813), xref="paper", yref="paper", xanchor="left", yanchor="middle",
             showarrow=False, font=dict(family=FONT, size=82, color="#111111")),
    ],
)

fig.write_html("out.html")
